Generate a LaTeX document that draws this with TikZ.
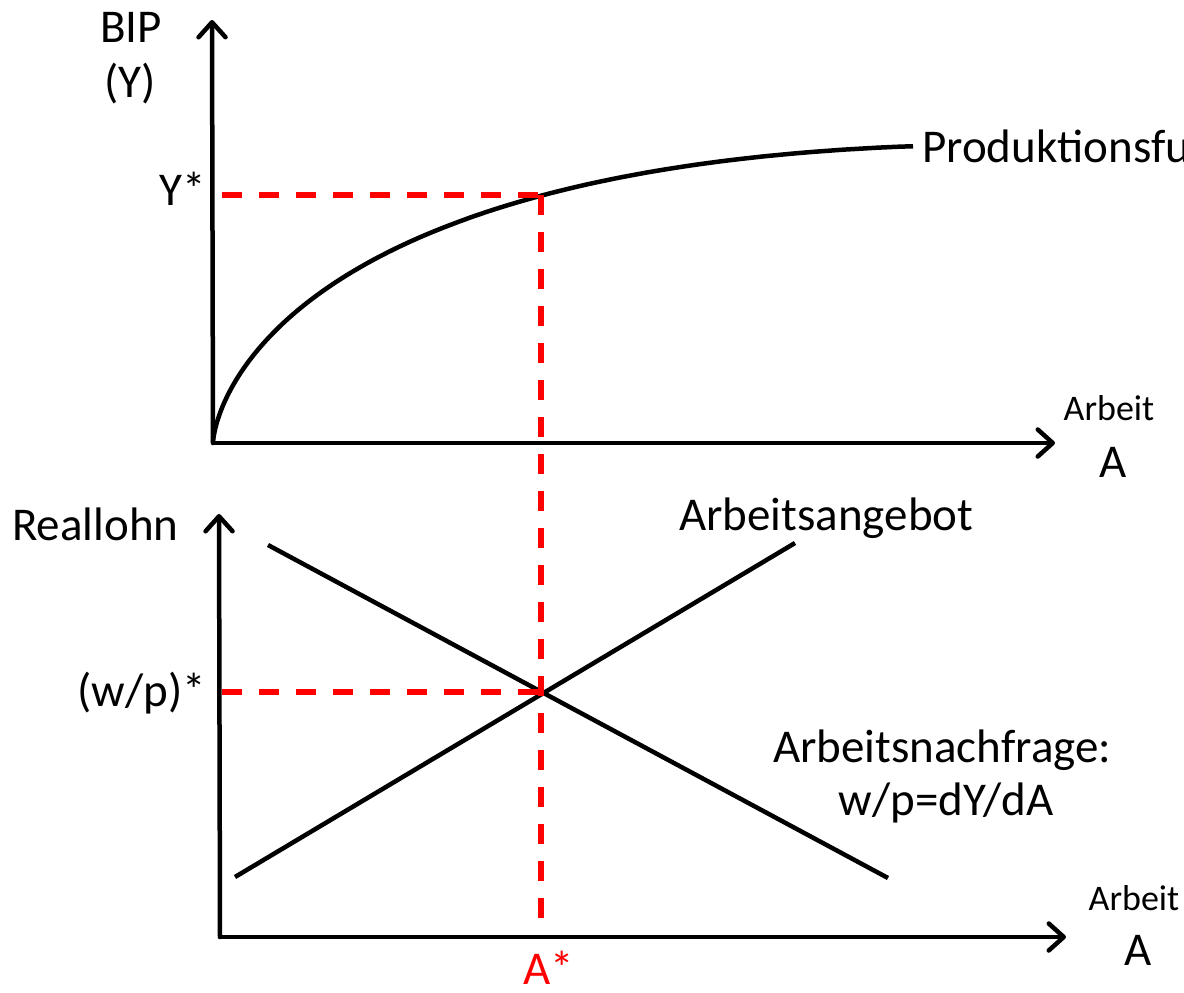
\documentclass[tikz,border=0pt]{standalone}
\usepackage{fontspec}
\setmainfont{Carlito}
\usetikzlibrary{arrows.meta}

\begin{document}
\begin{tikzpicture}[
    x=1pt, y=-1pt,
    font=\fontsize{47pt}{56pt}\selectfont,
    axis/.style={line width=4.5pt, line cap=round,
        -{Straight Barb[length=15pt, width=27pt, line cap=round, line join=round]}},
    curve/.style={line width=4.5pt},
    guide/.style={draw=red, line width=5.5pt, dash pattern=on 20pt off 17pt},
    txt/.style={anchor=base, inner sep=0pt},
    small/.style={txt, font=\fontsize{36pt}{43pt}\selectfont},
]
\clip (0,0) rectangle (1184,993);

% ---------- Upper panel: production function ----------
\coordinate (O1) at (213,443);
\coordinate (Ytip) at (212,20);
\coordinate (Xtip1) at (1055,443);
\coordinate (Ystar) at (222,195);
\coordinate (E1) at (541,195);

\node[txt] (bip) at (131,42) {BIP};
\node[txt] (bipy) at (130,97) {(Y)};
\node[txt, anchor=base east] (ystarlab) at (206,205) {Y*};
\node[txt, anchor=base west] (prod) at (922,162) {Produktionsfunktion};
\node[small] (arb1) at (1109,420) {Arbeit};
\node[txt] (a1) at (1113,477) {A};

\draw[axis] (O1) -- (Ytip);
\draw[axis] (O1) -- (Xtip1);

% t = sqrt of the distance from the origin, so the steep start gets enough samples
\draw[curve] (O1) -- plot[domain=0.1:26.458, samples=160]
    ({213+\x*\x}, {443-9.22*(\x^1.4-0.0941*\x*\x)});

% ---------- Lower panel: labour market ----------
\coordinate (O2) at (220,937);
\coordinate (Rtip) at (219,514);
\coordinate (Xtip2) at (1066,937);
\coordinate (S0) at (235,877);
\coordinate (S1) at (795,543);
\coordinate (D0) at (268,545);
\coordinate (D1) at (888,878);
\coordinate (E2) at (541,692);
\coordinate (Wstar) at (222,692);
\coordinate (Abot) at (541,925);

\node[txt, anchor=base west] (reallohn) at (12,540) {Reallohn};
\node[txt, anchor=base west] (angebot) at (679,530) {Arbeitsangebot};
\node[txt, anchor=base east] (wplab) at (206,706) {(w/p)*};
\node[txt, anchor=base west] (nachfrage) at (773,762) {Arbeitsnachfrage:};
\node[txt] (wp) at (946,815) {w/p=dY/dA};
\node[txt, text=red] (astar) at (549,984) {A*};
\node[small] (arb2) at (1134,910) {Arbeit};
\node[txt] (a2) at (1138,965) {A};

\draw[axis] (O2) -- (Rtip);
\draw[axis] (O2) -- (Xtip2);
\draw[curve] (S0) -- (S1);
\draw[curve] (D0) -- (D1);

% ---------- Equilibrium guides ----------
\draw[guide] (Ystar) -- (E1);
\draw[guide] (E1) -- (Abot);
\draw[guide] (Wstar) -- (E2);

\end{tikzpicture}
\end{document}
